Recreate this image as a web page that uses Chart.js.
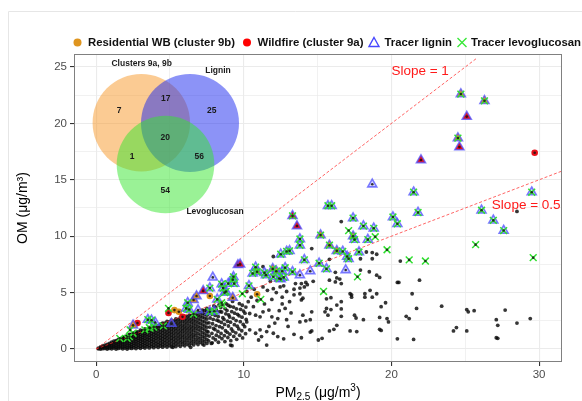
<!DOCTYPE html>
<html>
<head>
<meta charset="utf-8">
<script src="https://cdn.jsdelivr.net/npm/chart.js@4.4.1/dist/chart.umd.min.js"></script>
<style>
  html, body { margin: 0; padding: 0; background: #fff; }
  canvas { display: block; }
</style>
</head>
<body>
<canvas id="chart" width="582" height="401"></canvas>
<script>
// Axis ticks
const xTicks = [0, 10, 20, 30];
const yTicks = [0, 5, 10, 15, 20, 25];
const xGridLines = [0, 5, 10, 15, 20, 25, 30];
const yGridLines = [0, 2.5, 5, 7.5, 10, 12.5, 15, 17.5, 20, 22.5, 25];

// Reference lines OM = slope * PM2.5
const slopes = [1, 0.5];
const slopeEnds = [25.8, 31.6];
const slopeLabels = ["Slope = 1", "Slope = 0.5"];

// Venn inset (counts in order: A only, A&B, B only, all, A&C, B&C, C only)
const vennSets = ["Clusters 9a, 9b", "Lignin", "Levoglucosan"];
const vennCounts = [7, 17, 25, 20, 1, 56, 54];

const legendLabels = ["Residential WB (cluster 9b)", "Wildfire (cluster 9a)", "Tracer lignin", "Tracer levoglucosan"];

// All samples (PM2.5, OM): dense part read as columns [pm, [om...]]
const cloudColumns = [
  [0.15, [0.02, 0.08]], [0.3, [0.0, 0.1, 0.18]], [0.45, [0.03, 0.15, 0.27]], [0.6, [0.05, 0.2, 0.35]],
  [0.75, [0.0, 0.12, 0.28, 0.42]], [0.9, [0.06, 0.2, 0.35, 0.5]], [1.05, [0.02, 0.15, 0.3, 0.45, 0.6]],
  [1.2, [0.08, 0.22, 0.38, 0.55, 0.7]], [1.35, [0.0, 0.15, 0.3, 0.47, 0.62, 0.75]],
  [1.5, [0.05, 0.2, 0.38, 0.55, 0.72, 0.85]], [1.65, [0.1, 0.27, 0.45, 0.62, 0.8, 0.92]],
  [1.8, [0.02, 0.18, 0.36, 0.55, 0.73, 0.9, 1.0]], [1.95, [0.08, 0.26, 0.45, 0.64, 0.82, 1.0, 1.1]],
  [2.1, [0.0, 0.15, 0.34, 0.53, 0.72, 0.9, 1.08, 1.2]], [2.25, [0.1, 0.28, 0.47, 0.66, 0.85, 1.02, 1.2, 1.3]],
  [2.4, [0.05, 0.22, 0.4, 0.6, 0.8, 0.98, 1.15, 1.32]], [2.55, [0.12, 0.32, 0.52, 0.72, 0.9, 1.1, 1.28, 1.42]],
  [2.7, [0.04, 0.25, 0.45, 0.65, 0.85, 1.05, 1.23, 1.4, 1.55]], [2.85, [0.14, 0.35, 0.56, 0.76, 0.96, 1.16, 1.36, 1.52]],
  [3.0, [0.06, 0.27, 0.48, 0.7, 0.9, 1.1, 1.3, 1.5, 1.68]], [3.15, [0.16, 0.38, 0.6, 0.82, 1.02, 1.22, 1.44, 1.62]],
  [3.3, [0.08, 0.3, 0.52, 0.74, 0.96, 1.18, 1.38, 1.58, 1.78]], [3.45, [0.2, 0.42, 0.65, 0.86, 1.08, 1.3, 1.52, 1.72]],
  [3.6, [0.1, 0.33, 0.56, 0.8, 1.02, 1.24, 1.46, 1.68, 1.9]], [3.75, [0.22, 0.45, 0.68, 0.9, 1.14, 1.36, 1.6, 1.82]],
  [3.9, [0.12, 0.35, 0.6, 0.84, 1.06, 1.3, 1.52, 1.75, 1.98]], [4.05, [0.24, 0.48, 0.72, 0.96, 1.2, 1.44, 1.68, 1.9, 2.1]],
  [4.2, [0.14, 0.38, 0.62, 0.88, 1.12, 1.36, 1.6, 1.84, 2.06]], [4.35, [0.26, 0.5, 0.76, 1.0, 1.25, 1.5, 1.75, 2.0, 2.2]],
  [4.5, [0.16, 0.4, 0.66, 0.92, 1.16, 1.42, 1.68, 1.92, 2.15, 2.3]], [4.65, [0.28, 0.54, 0.8, 1.05, 1.3, 1.56, 1.82, 2.06, 2.3]],
  [4.8, [0.18, 0.44, 0.7, 0.96, 1.22, 1.48, 1.74, 2.0, 2.24, 2.45]], [4.95, [0.3, 0.56, 0.84, 1.1, 1.36, 1.62, 1.88, 2.14, 2.4]],
  [5.1, [0.2, 0.46, 0.74, 1.0, 1.28, 1.54, 1.8, 2.06, 2.32, 2.55]], [5.25, [0.32, 0.6, 0.88, 1.14, 1.42, 1.7, 1.96, 2.22, 2.5]],
  [5.4, [0.22, 0.5, 0.78, 1.06, 1.34, 1.62, 1.9, 2.16, 2.42, 2.68]], [5.55, [0.36, 0.64, 0.92, 1.2, 1.48, 1.76, 2.04, 2.32, 2.6]],
  [5.7, [0.24, 0.54, 0.82, 1.1, 1.4, 1.68, 1.96, 2.24, 2.52, 2.8]], [5.85, [0.4, 0.68, 0.98, 1.26, 1.56, 1.84, 2.12, 2.42, 2.7]],
  [6.0, [0.28, 0.58, 0.88, 1.16, 1.46, 1.76, 2.04, 2.34, 2.62, 2.9]], [6.15, [0.44, 0.74, 1.04, 1.34, 1.64, 1.94, 2.24, 2.54, 2.84]],
  [6.3, [0.32, 0.62, 0.92, 1.22, 1.52, 1.82, 2.12, 2.42, 2.72, 3.0]], [6.45, [0.5, 0.8, 1.12, 1.42, 1.72, 2.02, 2.34, 2.64, 2.95]],
  [6.6, [0.36, 0.68, 1.0, 1.3, 1.62, 1.94, 2.24, 2.56, 2.86, 3.15]], [6.75, [0.55, 0.86, 1.18, 1.5, 1.82, 2.14, 2.46, 2.78, 3.05]],
  [6.9, [0.4, 0.72, 1.04, 1.36, 1.7, 2.02, 2.34, 2.66, 2.98, 3.3]], [7.05, [0.6, 0.92, 1.26, 1.6, 1.92, 2.26, 2.58, 2.9, 3.2]],
  [7.2, [0.45, 0.78, 1.12, 1.46, 1.8, 2.14, 2.48, 2.82, 3.15, 3.45]], [7.35, [0.66, 1.0, 1.34, 1.7, 2.04, 2.4, 2.74, 3.08, 3.4]],
  [7.5, [0.5, 0.86, 1.22, 1.58, 1.94, 2.3, 2.66, 3.0, 3.35, 3.6]]
];

// All samples: looser part of the cloud and scattered points
const cloudScatter = [
  [7.62, 0.72], [7.66, 1.15], [7.58, 1.52], [7.7, 1.95], [7.64, 2.32], [7.72, 2.75], [7.6, 3.12], [7.68, 3.52],
  [7.86, 0.55], [7.92, 0.98], [7.84, 1.38], [7.95, 1.82], [7.88, 2.24], [7.93, 2.62], [7.85, 3.08], [7.9, 3.44], [7.97, 3.82],
  [8.08, 0.82], [8.14, 1.22], [8.05, 1.72], [8.12, 2.08], [8.18, 2.56], [8.06, 2.98], [8.15, 3.42], [8.1, 3.72],
  [8.28, 0.6], [8.34, 1.08], [8.25, 1.56], [8.36, 1.98], [8.3, 2.48], [8.27, 2.88], [8.38, 3.32], [8.32, 3.92],
  [8.52, 0.92], [8.46, 1.38], [8.55, 1.88], [8.48, 2.36], [8.58, 2.78], [8.5, 3.28], [8.44, 3.68],
  [8.72, 0.66], [8.68, 1.18], [8.76, 1.62], [8.7, 2.18], [8.66, 2.62], [8.78, 3.12], [8.73, 3.58], [8.8, 4.02],
  [8.92, 1.02], [8.88, 1.48], [8.96, 2.04], [8.9, 2.46], [8.98, 3.02], [8.86, 3.42], [8.94, 3.88],
  [9.12, 0.74], [9.06, 1.32], [9.16, 1.78], [9.1, 2.38], [9.04, 2.84], [9.18, 3.32], [9.08, 3.78],
  [9.32, 1.12], [9.26, 1.58], [9.36, 2.16], [9.28, 2.72], [9.38, 3.18], [9.3, 3.72], [9.24, 4.22],
  [9.52, 0.86], [9.46, 1.44], [9.56, 2.02], [9.48, 2.52], [9.58, 3.08], [9.5, 3.56],
  [9.72, 1.22], [9.66, 1.78], [9.76, 2.42], [9.68, 2.94], [9.78, 3.52], [9.7, 4.02],
  [9.92, 0.98], [9.86, 1.62], [9.96, 2.18], [9.88, 2.82], [9.98, 3.36], [9.9, 3.88],
  [10.12, 1.36], [10.06, 1.98], [10.16, 2.62], [10.08, 3.18], [10.14, 3.72],
  [10.3, 4.2], [10.65, 3.75], [10.4, 3.15], [10.8, 3.0], [11.1, 2.85], [11.3, 3.3], [11.7, 3.45], [11.9, 2.85],
  [12.3, 2.7], [12.1, 2.3], [11.7, 2.0], [11.1, 1.7], [10.8, 1.4], [11.2, 1.1], [11.55, 1.55], [12.0, 1.4],
  [12.3, 1.1], [11.0, 0.8], [11.55, 0.35], [10.4, 1.7], [10.2, 2.4], [9.1, 0.35], [9.2, 0.3], [7.8, 0.5],
  [7.3, 0.35], [6.4, 0.15], [5.2, 0.15], [11.3, 7.3], [11.8, 6.0], [11.3, 5.5], [11.6, 5.2], [12.0, 5.35], [12.2, 5.0],
  [16.6, 11.3], [14.6, 8.9], [18.3, 8.6], [18.7, 8.55], [18.7, 8.0], [19.0, 8.4], [17.9, 8.0], [15.8, 7.95],
  [20.6, 7.8], [28.5, 12.2], [17.9, 7.0], [18.5, 6.85], [19.0, 6.55], [19.2, 6.35], [20.4, 5.9], [20.5, 5.9],
  [21.9, 6.1], [15.8, 6.1], [16.2, 5.95], [16.5, 6.2], [16.2, 6.8], [12.0, 8.2],
  [13.5, 5.8], [13.9, 5.8], [14.2, 5.9], [14.1, 5.5], [13.8, 5.4], [13.4, 5.3], [13.8, 4.9], [14.0, 4.5], [13.9, 4.35],
  [12.46, 5.5], [12.7, 5.6], [12.9, 5.1], [12.6, 4.6], [13.4, 4.8], [14.3, 5.7], [14.7, 6.0], [16.3, 6.3], [16.6, 5.8],
  [17.2, 4.9], [17.3, 4.6], [18.2, 4.9], [18.55, 5.2], [19.0, 4.9],
  [15.6, 4.45], [15.9, 4.55], [16.3, 3.9], [16.6, 4.2], [17.3, 4.8], [18.2, 4.6], [18.7, 4.6], [19.6, 4.1],
  [19.3, 3.75], [21.4, 4.9], [21.7, 3.6], [23.4, 3.8], [25.1, 3.5], [25.2, 3.3], [25.6, 3.4], [27.7, 3.45],
  [29.4, 2.7], [27.1, 2.6], [27.2, 2.1], [27.2, 0.95], [28.5, 2.3], [24.2, 1.6], [24.4, 1.9], [25.1, 1.6],
  [20.4, 0.9], [21.5, 0.85], [18.1, 2.6], [19.2, 2.8], [19.7, 2.7], [19.8, 2.4], [21.0, 2.9], [21.2, 2.7],
  [17.5, 3.0], [17.6, 2.75], [16.3, 2.1], [16.1, 1.75], [15.8, 1.6], [17.2, 1.6], [17.65, 1.55], [19.2, 1.75],
  [19.3, 1.65], [15.05, 0.8], [15.3, 0.95], [14.6, 1.6], [14.5, 1.5], [15.5, 3.3], [15.7, 3.0], [16.6, 2.9],
  [15.6, 3.6], [15.9, 3.5], [16.6, 3.55], [13.8, 2.4], [14.2, 2.5], [14.5, 2.6], [14.0, 3.0], [14.6, 3.3], [27.1, 1.0],
  [12.8, 3.6], [13.2, 3.2], [13.0, 2.0], [13.4, 1.3], [12.7, 0.9], [13.9, 1.0], [12.6, 4.0], [13.1, 4.2],
  [10.5, 4.6], [10.9, 4.3], [11.4, 4.0], [11.9, 4.4], [10.2, 5.1], [10.7, 5.3], [12.4, 3.4], [12.9, 2.6]
];

// Samples in each group (PM2.5, OM)
const residentialWB = [
  [24.7, 22.6], [26.3, 22.0], [24.5, 18.7], [17.4, 10.0], [15.2, 10.1], [15.8, 9.2], [16.3, 8.7],
  [11.96, 7.1], [12.2, 6.9], [10.9, 6.85], [9.25, 4.55], [6.6, 4.35], [6.8, 4.7], [7.7, 4.7],
  [10.9, 4.85], [5.6, 3.3], [5.3, 3.45], [2.5, 2.1]
];
const wildfire = [
  [25.1, 20.6], [24.6, 17.9], [29.7, 17.4], [22.0, 16.75], [13.3, 11.8], [13.6, 10.9],
  [9.6, 7.45], [9.75, 7.5], [7.25, 5.15], [5.85, 2.85], [4.9, 3.2], [2.8, 2.3]
];
const tracerLignin = [
  [24.7, 22.6], [26.3, 22.0], [25.1, 20.6], [24.5, 18.7], [24.6, 17.9], [22.0, 16.75], [18.7, 14.6],
  [21.5, 13.9], [29.5, 13.9], [26.1, 12.3], [21.8, 12.1], [26.9, 11.4], [27.6, 10.5], [20.1, 11.7],
  [20.4, 11.1], [18.8, 10.7], [18.1, 10.9], [18.4, 9.7], [17.4, 11.6], [17.4, 10.0], [17.5, 9.7],
  [15.7, 12.7], [15.95, 12.7], [13.3, 11.8], [13.6, 10.9], [15.2, 10.1], [15.8, 9.2], [13.8, 9.75],
  [13.8, 9.2], [12.5, 8.4], [13.1, 8.7], [12.9, 8.65], [16.3, 8.7], [16.7, 8.65], [17.0, 8.2],
  [17.1, 8.0], [17.8, 8.6], [14.1, 7.9], [15.1, 7.6], [14.5, 6.9], [15.6, 7.1], [16.9, 7.0],
  [11.96, 7.1], [12.2, 6.9], [12.8, 7.2], [12.6, 6.9], [12.7, 6.35], [13.3, 6.85], [13.8, 6.55],
  [9.6, 7.45], [9.75, 7.5], [10.8, 7.25], [10.9, 6.85], [10.6, 6.7], [11.4, 6.75], [11.5, 6.55],
  [12.0, 6.4], [12.4, 6.25], [12.5, 6.2], [7.9, 6.35], [8.5, 5.75], [8.6, 5.4], [8.8, 5.1], [8.7, 5.0],
  [8.95, 5.8], [9.25, 6.15], [9.35, 5.8], [9.3, 6.4], [9.25, 4.55], [7.25, 5.15], [7.7, 5.4],
  [6.6, 4.35], [6.8, 4.7], [8.2, 4.4], [10.35, 5.6], [6.1, 3.6], [6.3, 3.5], [6.2, 4.1], [5.1, 2.25],
  [4.0, 2.35], [2.5, 2.1], [3.75, 2.55], [3.5, 2.6], [6.9, 3.45], [7.7, 3.3], [8.0, 3.35]
];
const tracerLevoglucosan = [
  [24.7, 22.6], [26.3, 22.0], [24.5, 18.7], [21.5, 13.9], [29.5, 13.9], [26.1, 12.3], [21.8, 12.1],
  [26.9, 11.4], [27.6, 10.5], [25.7, 9.25], [29.6, 8.1], [19.7, 8.8], [21.2, 7.9], [22.3, 7.8],
  [18.9, 9.95], [17.1, 10.5], [20.1, 11.7], [20.4, 11.1], [18.8, 10.7], [18.1, 10.9], [18.4, 9.7],
  [17.4, 11.6], [17.4, 10.0], [17.5, 9.7], [15.7, 12.7], [15.95, 12.7], [13.3, 11.8], [15.2, 10.1],
  [15.8, 9.2], [13.8, 9.75], [13.8, 9.2], [12.5, 8.4], [13.1, 8.7], [12.9, 8.65], [16.3, 8.7],
  [16.7, 8.65], [17.0, 8.2], [17.1, 8.0], [17.8, 8.6], [14.1, 7.9], [15.1, 7.6], [15.6, 7.1],
  [17.7, 6.4], [15.4, 5.1], [11.96, 7.1], [12.2, 6.9], [12.8, 7.2], [12.6, 6.9], [12.7, 6.35],
  [13.3, 6.85], [10.8, 7.25], [10.9, 6.85], [10.6, 6.7], [11.4, 6.75], [11.5, 6.55], [12.0, 6.4],
  [12.4, 6.25], [8.5, 5.75], [8.6, 5.4], [8.8, 5.1], [8.7, 5.0], [8.95, 5.8], [9.25, 6.15], [9.35, 5.8],
  [9.3, 6.4], [7.7, 5.4], [8.2, 4.4], [8.5, 4.1], [10.35, 5.6], [9.9, 4.9], [11.15, 4.4], [6.1, 3.6],
  [6.3, 3.5], [6.2, 4.1], [4.9, 3.6], [4.55, 2.05], [2.1, 0.95], [2.25, 1.1], [3.3, 1.7], [3.65, 1.85],
  [3.75, 2.55], [3.5, 2.6], [2.3, 1.7], [2.5, 1.4], [1.6, 0.95], [6.6, 3.1], [7.7, 3.3], [8.0, 3.35],
  [8.55, 3.9], [3.6, 1.9], [3.9, 1.95]
];

const FONT = "'Liberation Sans', Arial, Helvetica, sans-serif";
const toPts = (arr) => arr.map(([x, y]) => ({ x, y }));
const key = (p) => p[0] + "," + p[1];

const cloud = [];
cloudColumns.forEach(([x, ys]) => ys.forEach((y) => cloud.push([x, y])));
cloudScatter.forEach((p) => cloud.push(p));

const ligninKeys = new Set(tracerLignin.map(key));
const wildKeys = new Set(wildfire.map(key));
const resKeys = new Set(residentialWB.map(key));
const taggedKeys = new Set();
const tagged = [];
[residentialWB, wildfire, tracerLignin, tracerLevoglucosan].forEach((arr) =>
  arr.forEach((p) => {
    if (!taggedKeys.has(key(p))) { taggedKeys.add(key(p)); tagged.push(p); }
  })
);

// triangle fill takes the cluster colour when the sample is in a cluster
const ligninFill = tracerLignin.map((p) =>
  wildKeys.has(key(p)) ? "#E8101A" : resKeys.has(key(p)) ? "#DF951F" : "rgba(120,120,255,0.3)"
);

function fitText(ctx, text, x, y, width) {
  const w = ctx.measureText(text).width;
  ctx.save();
  ctx.translate(x, y);
  ctx.scale(width / w, 1);
  ctx.textAlign = "left";
  ctx.fillText(text, 0, 0);
  ctx.restore();
}

const decor = {
  id: "decor",
  beforeDraw(chart) {
    const ctx = chart.ctx;
    ctx.save();
    ctx.strokeStyle = "#E6E6E6";
    ctx.lineWidth = 1;
    ctx.beginPath();
    ctx.moveTo(8.5, 401);
    ctx.lineTo(8.5, 11.5);
    ctx.lineTo(582, 11.5);
    ctx.stroke();
    ctx.restore();
  },
  afterDatasetsDraw(chart) {
    const ctx = chart.ctx;
    const a = chart.chartArea;
    const sx = chart.scales.x, sy = chart.scales.y;

    // slope labels
    ctx.save();
    ctx.fillStyle = "#FF1A1A";
    ctx.font = "13.5px " + FONT;
    ctx.textBaseline = "middle";
    ctx.textAlign = "left";
    ctx.fillText(slopeLabels[0], sx.getPixelForValue(20.0), sy.getPixelForValue(24.6));
    ctx.fillText(slopeLabels[1], sx.getPixelForValue(26.8), sy.getPixelForValue(12.7));
    ctx.restore();

    // venn inset
    const L = a.left, T = a.top;
    const circles = [
      [67.3, 68.7, 48.7, "rgba(247,151,39,0.5)"],
      [116, 69, 49, "rgba(25,39,239,0.5)"],
      [91.5, 110.5, 48.8, "rgba(53,229,45,0.5)"]
    ];
    ctx.save();
    circles.forEach(([cx, cy, r, c]) => {
      ctx.beginPath();
      ctx.arc(L + cx, T + cy, r, 0, Math.PI * 2);
      ctx.fillStyle = c;
      ctx.fill();
    });
    ctx.fillStyle = "#1A1A1A";
    ctx.textAlign = "center";
    ctx.textBaseline = "middle";
    ctx.font = "bold 8.5px " + FONT;
    const setPos = [[67.7, 10], [144, 17], [141, 157.7]];
    vennSets.forEach((t, i) => ctx.fillText(t, L + setPos[i][0], T + setPos[i][1]));
    const countPos = [[45, 57], [91.7, 44.7], [137.7, 57], [91.3, 83.3], [58, 103], [125.3, 103], [91.3, 136.7]];
    vennCounts.forEach((n, i) => ctx.fillText(String(n), L + countPos[i][0], T + countPos[i][1]));
    ctx.restore();

    // panel border
    ctx.save();
    ctx.strokeStyle = "#808080";
    ctx.lineWidth = 1;
    ctx.strokeRect(Math.round(a.left) + 0.5, Math.round(a.top) + 0.5,
      Math.round(a.right - a.left) - 1, Math.round(a.bottom - a.top) - 1);
    ctx.restore();
  },
  afterDraw(chart) {
    const ctx = chart.ctx;
    const a = chart.chartArea;

    // legend
    const y = 42.5;
    const markX = [77.5, 247, 374, 462];
    const textX = [88, 257.5, 384.5, 471];
    const textW = [147, 106, 67.5, 110];
    ctx.save();
    ctx.beginPath(); ctx.arc(markX[0], y, 4, 0, Math.PI * 2); ctx.fillStyle = "#DF951F"; ctx.fill();
    ctx.beginPath(); ctx.arc(markX[1], y, 4, 0, Math.PI * 2); ctx.fillStyle = "#FF0000"; ctx.fill();
    ctx.beginPath();
    ctx.moveTo(markX[2], y - 5); ctx.lineTo(markX[2] + 5, y + 4); ctx.lineTo(markX[2] - 5, y + 4); ctx.closePath();
    ctx.strokeStyle = "#4747FF"; ctx.lineWidth = 1.4; ctx.stroke();
    ctx.beginPath();
    ctx.moveTo(markX[3] - 4.5, y - 4.5); ctx.lineTo(markX[3] + 4.5, y + 4.5);
    ctx.moveTo(markX[3] + 4.5, y - 4.5); ctx.lineTo(markX[3] - 4.5, y + 4.5);
    ctx.strokeStyle = "#38E838"; ctx.lineWidth = 1.4; ctx.stroke();
    ctx.fillStyle = "#111";
    ctx.font = "bold 11px " + FONT;
    ctx.textBaseline = "middle";
    legendLabels.forEach((t, i) => fitText(ctx, t, textX[i], y, textW[i]));
    ctx.restore();

    // axis titles
    ctx.save();
    ctx.fillStyle = "#000";
    ctx.textBaseline = "alphabetic";
    ctx.font = "14px " + FONT;
    ctx.translate(27, (a.top + a.bottom) / 2);
    ctx.rotate(-Math.PI / 2);
    ctx.textAlign = "center";
    ctx.fillText("OM (\u03BCg/m\u00B3)", 0, 0);
    ctx.restore();

    ctx.save();
    ctx.fillStyle = "#000";
    ctx.textBaseline = "alphabetic";
    const parts = [["PM", 14, 0], ["2.5", 10, 3], [" (\u03BCg/m", 14, 0], ["3", 10, -6], [")", 14, 0]];
    let total = 0;
    parts.forEach(([t, s]) => { ctx.font = s + "px " + FONT; total += ctx.measureText(t).width; });
    let x = (a.left + a.right) / 2 - total / 2;
    parts.forEach(([t, s, dy]) => {
      ctx.font = s + "px " + FONT;
      ctx.fillText(t, x, 397 + dy);
      x += ctx.measureText(t).width;
    });
    ctx.restore();
  }
};

const tickFont = { family: FONT, size: 11.5 };
const gridColor = "#EBEBEB";

new Chart(document.getElementById("chart"), {
  type: "scatter",
  data: {
    datasets: [
      {
        label: "samples",
        data: toPts(tagged),
        pointStyle: "circle",
        pointRadius: 1.3,
        backgroundColor: "rgba(20,20,20,0.85)",
        borderWidth: 0,
        order: 0
      },
      {
        label: legendLabels[3],
        data: toPts(tracerLevoglucosan),
        pointStyle: "crossRot",
        pointRadius: 4.8,
        borderColor: "#30E030",
        borderWidth: 1.5,
        order: 1
      },
      {
        label: legendLabels[2],
        data: toPts(tracerLignin),
        pointStyle: "triangle",
        pointRadius: 5.2,
        borderColor: "rgba(80,80,255,0.75)",
        backgroundColor: ligninFill,
        borderWidth: 1.6,
        order: 2
      },
      {
        label: legendLabels[1],
        data: toPts(wildfire.filter((p) => !ligninKeys.has(key(p)))),
        pointStyle: "circle",
        pointRadius: 3.3,
        backgroundColor: "#E8101A",
        borderWidth: 0,
        order: 3
      },
      {
        label: legendLabels[0],
        data: toPts(residentialWB.filter((p) => !ligninKeys.has(key(p)))),
        pointStyle: "circle",
        pointRadius: 3.3,
        backgroundColor: "#DF951F",
        borderWidth: 0,
        order: 4
      },
      ...slopes.map((s, i) => ({
        label: slopeLabels[i],
        data: [{ x: 0, y: 0 }, { x: slopeEnds[i], y: s * slopeEnds[i] }],
        showLine: true,
        pointRadius: 0,
        borderColor: "rgba(255,40,40,0.8)",
        borderWidth: 0.9,
        borderDash: [3, 2],
        order: 5
      })),
      {
        label: "all",
        data: toPts(cloud),
        pointStyle: "circle",
        pointRadius: 1.9,
        backgroundColor: "rgba(10,10,10,0.82)",
        borderWidth: 0,
        order: 7
      }
    ]
  },
  options: {
    responsive: false,
    animation: false,
    layout: { padding: { top: 54, right: 20, left: 0, bottom: 0 } },
    plugins: { legend: { display: false }, tooltip: { enabled: false } },
    scales: {
      x: {
        type: "linear",
        min: -1.5,
        max: 31.55,
        afterBuildTicks: (s) => { s.ticks = xGridLines.map((v) => ({ value: v })); },
        afterFit: (s) => { s.height = 39; },
        border: { display: false },
        grid: {
          color: gridColor,
          lineWidth: (c) => (xTicks.includes(c.tick.value) ? 1.1 : 0.7),
          tickLength: 4,
          tickColor: (c) => (xTicks.includes(c.tick.value) ? "#333333" : "rgba(0,0,0,0)")
        },
        ticks: {
          autoSkip: false,
          maxRotation: 0,
          padding: 2,
          color: "#4D4D4D",
          font: tickFont,
          callback: (v) => (xTicks.includes(v) ? String(v) : "")
        }
      },
      y: {
        type: "linear",
        min: -1.15,
        max: 26.15,
        afterBuildTicks: (s) => { s.ticks = yGridLines.map((v) => ({ value: v })); },
        afterFit: (s) => { s.width = 74; },
        border: { display: false },
        grid: {
          color: gridColor,
          lineWidth: (c) => (yTicks.includes(c.tick.value) ? 1.1 : 0.7),
          tickLength: 4,
          tickColor: (c) => (yTicks.includes(c.tick.value) ? "#333333" : "rgba(0,0,0,0)")
        },
        ticks: {
          padding: 3,
          color: "#4D4D4D",
          font: tickFont,
          callback: (v) => (yTicks.includes(v) ? String(v) : "")
        }
      }
    }
  },
  plugins: [decor]
});
</script>
</body>
</html>
